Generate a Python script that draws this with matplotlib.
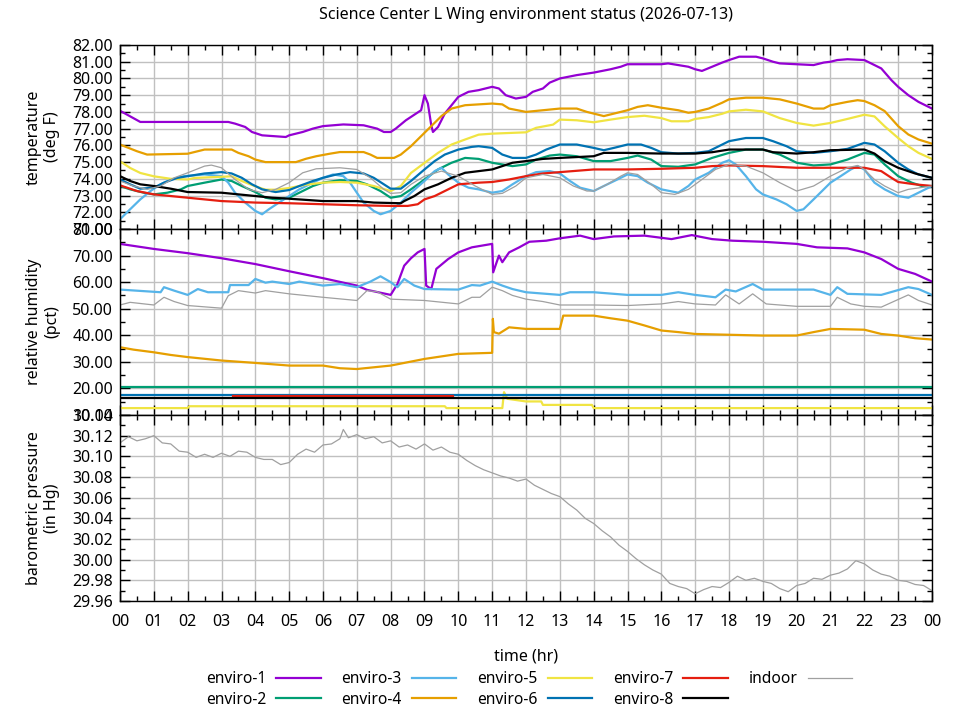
import numpy as np
import matplotlib
matplotlib.use("Agg")
import matplotlib.pyplot as plt
from matplotlib.ticker import MultipleLocator, FixedLocator

plt.rcParams["font.family"] = ["Noto Sans", "DejaVu Sans"]
plt.rcParams["font.size"] = 11

# ==== data (hour, value) ====
names = ["enviro-1", "enviro-2", "enviro-3", "enviro-4",
         "enviro-5", "enviro-6", "enviro-7", "enviro-8", "indoor"]
colors = ["#9400d3", "#009e73", "#56b4e9", "#e69f00",
          "#f0e442", "#0072b2", "#e51e10", "#000000", "#a0a0a0"]

# temperature (deg F)
e1_temp = [(0, 78.07), (0.6, 77.4), (3.2, 77.4), (3.4, 77.3), (3.7, 77.1), (3.9, 76.8), (4.2, 76.6),
           (4.9, 76.5), (5.0, 76.6), (5.4, 76.8), (5.7, 77.0), (6.0, 77.15), (6.6, 77.25), (7.2, 77.2),
           (7.6, 77.0), (7.8, 76.8), (8.0, 76.8), (8.15, 77.0), (8.45, 77.5), (8.9, 78.1), (9.0, 79.0),
           (9.1, 78.5), (9.2, 77.2), (9.25, 76.8), (9.4, 77.1), (9.6, 77.9), (9.8, 78.4), (10.0, 78.9),
           (10.3, 79.2), (10.6, 79.3), (11.0, 79.5), (11.2, 79.4), (11.4, 79.0), (11.7, 78.8), (12.0, 78.9),
           (12.2, 79.2), (12.5, 79.4), (12.7, 79.75), (13.0, 80.0), (13.5, 80.2), (14.0, 80.35), (14.5, 80.55),
           (14.8, 80.7), (15.0, 80.85), (16.0, 80.85), (16.2, 80.9), (16.8, 80.7), (17.0, 80.55), (17.2, 80.45),
           (17.5, 80.7), (17.8, 80.95), (18.0, 81.1), (18.3, 81.3), (18.8, 81.3), (19.0, 81.2), (19.3, 81.0),
           (19.5, 80.9), (20.0, 80.85), (20.5, 80.8), (20.8, 80.95), (21.0, 81.0), (21.2, 81.1), (21.5, 81.15),
           (22.0, 81.1), (22.2, 80.9), (22.5, 80.6), (22.8, 79.9), (23.0, 79.5), (23.3, 79.0), (23.6, 78.6),
           (23.8, 78.4), (24.0, 78.2)]
e2_temp = [(0, 73.57), (0.3, 73.37), (0.7, 73.17), (1.0, 73.07), (1.4, 73.17), (1.8, 73.37), (2.0, 73.57),
           (2.5, 73.77), (3.0, 73.96), (3.3, 73.87), (3.6, 73.57), (4.0, 73.21), (4.3, 72.87), (4.6, 72.77),
           (5.0, 72.87), (5.3, 73.17), (5.7, 73.57), (6.0, 73.77), (6.5, 73.92), (7.0, 73.87), (7.3, 73.67),
           (7.7, 73.27), (8.0, 72.87), (8.3, 72.97), (8.6, 73.37), (9.0, 73.96), (9.4, 74.56), (9.8, 74.96),
           (10.2, 75.25), (10.6, 75.19), (11.0, 74.96), (11.3, 74.86), (11.6, 74.76), (12.0, 74.86), (12.3, 75.15),
           (12.7, 75.39), (13.0, 75.45), (13.5, 75.35), (14.0, 75.06), (14.5, 75.06), (15.0, 75.25), (15.3, 75.39),
           (15.7, 75.15), (16.0, 74.76), (16.5, 74.72), (17.0, 74.86), (17.5, 75.25), (18.0, 75.55), (18.5, 75.75),
           (19.0, 75.75), (19.5, 75.45), (20.0, 74.96), (20.5, 74.80), (21.0, 74.86), (21.5, 75.15), (22.0, 75.55),
           (22.3, 75.45), (22.6, 74.86), (23.0, 74.16), (23.4, 73.77), (23.7, 73.57), (24.0, 73.57)]
e3_temp = [(0, 71.58), (0.3, 72.18), (0.6, 72.77), (0.9, 73.27), (1.2, 73.67), (1.5, 73.96), (1.9, 74.16),
           (2.5, 74.26), (3.0, 74.16), (3.2, 73.77), (3.4, 73.17), (3.7, 72.58), (4.0, 72.08), (4.2, 71.88),
           (4.4, 72.18), (4.7, 72.58), (5.0, 72.97), (5.3, 73.37), (5.7, 73.77), (6.0, 74.06), (6.3, 74.26),
           (6.6, 74.16), (6.8, 73.77), (7.0, 73.17), (7.2, 72.58), (7.5, 72.08), (7.7, 71.88), (8.0, 72.08),
           (8.3, 72.58), (8.6, 73.17), (9.0, 73.87), (9.3, 74.46), (9.5, 74.66), (9.7, 74.26), (10.0, 73.77),
           (10.3, 73.47), (10.6, 73.37), (11.0, 73.17), (11.3, 73.27), (11.6, 73.67), (12.0, 74.16), (12.3, 74.40),
           (12.7, 74.46), (13.0, 74.32), (13.3, 73.87), (13.6, 73.47), (14.0, 73.27), (14.3, 73.57), (14.7, 73.96),
           (15.0, 74.26), (15.3, 74.16), (15.6, 73.77), (16.0, 73.37), (16.5, 73.17), (16.8, 73.57), (17.0, 73.96),
           (17.4, 74.36), (17.8, 74.96), (18.0, 75.11), (18.2, 74.86), (18.5, 74.16), (18.8, 73.37), (19.0, 73.07),
           (19.4, 72.77), (19.7, 72.48), (20.0, 72.08), (20.2, 72.18), (20.5, 72.77), (20.8, 73.37), (21.0, 73.77),
           (21.3, 74.16), (21.6, 74.56), (21.8, 74.76), (22.0, 74.56), (22.3, 73.77), (22.6, 73.37), (23.0, 72.97),
           (23.3, 72.87), (23.6, 73.17), (24.0, 73.57)]
e4_temp = [(0, 76.05), (0.5, 75.65), (0.8, 75.45), (2.0, 75.5), (2.3, 75.65), (2.5, 75.75), (3.3, 75.75),
           (3.5, 75.55), (3.8, 75.35), (4.0, 75.15), (4.3, 75.0), (5.2, 75.0), (5.5, 75.2), (5.8, 75.35),
           (6.2, 75.5), (6.5, 75.6), (7.2, 75.6), (7.4, 75.45), (7.6, 75.25), (8.1, 75.25), (8.3, 75.45),
           (8.6, 75.95), (8.9, 76.55), (9.2, 77.15), (9.5, 77.75), (9.8, 78.2), (10.2, 78.4), (10.6, 78.45),
           (11.0, 78.5), (11.3, 78.45), (11.5, 78.2), (12.0, 78.0), (12.5, 78.1), (13.0, 78.2), (13.5, 78.2),
           (13.8, 78.0), (14.0, 77.9), (14.3, 77.75), (14.7, 77.95), (15.0, 78.1), (15.3, 78.3), (15.6, 78.4),
           (16.0, 78.25), (16.5, 78.1), (16.8, 77.95), (17.0, 78.0), (17.4, 78.2), (17.8, 78.55), (18.0, 78.75),
           (18.5, 78.85), (19.0, 78.85), (19.5, 78.75), (20.0, 78.5), (20.5, 78.2), (20.8, 78.2), (21.0, 78.4),
           (21.5, 78.6), (21.8, 78.7), (22.0, 78.65), (22.3, 78.4), (22.6, 78.05), (23.0, 77.15), (23.3, 76.65),
           (23.6, 76.35), (24.0, 76.1)]
e5_temp = [(0, 75.05), (0.3, 74.65), (0.6, 74.35), (1.0, 74.15), (1.5, 74.0), (2.0, 73.96), (2.2, 74.05),
           (3.3, 74.15), (3.6, 73.87), (4.0, 73.55), (4.3, 73.35), (4.6, 73.35), (5.0, 73.45), (5.5, 73.65),
           (6.0, 73.77), (6.5, 73.81), (7.0, 73.77), (7.5, 73.57), (8.0, 73.27), (8.3, 73.57), (8.6, 74.35),
           (9.0, 74.95), (9.4, 75.55), (9.8, 76.05), (10.2, 76.35), (10.6, 76.64), (11.0, 76.7), (12.0, 76.78),
           (12.3, 77.05), (12.8, 77.24), (13.0, 77.54), (13.5, 77.5), (14.0, 77.38), (14.5, 77.54), (15.0, 77.69),
           (15.5, 77.77), (16.0, 77.63), (16.3, 77.44), (16.8, 77.44), (17.0, 77.58), (17.4, 77.69), (17.8, 77.89),
           (18.0, 78.03), (18.5, 78.13), (19.0, 78.03), (19.5, 77.63), (20.0, 77.34), (20.5, 77.18), (21.0, 77.34),
           (21.5, 77.58), (22.0, 77.83), (22.3, 77.73), (22.6, 77.14), (23.0, 76.44), (23.3, 75.95), (23.6, 75.55),
           (24.0, 75.19)]
e6_temp = [(0, 73.96), (0.3, 73.67), (0.6, 73.41), (1.0, 73.47), (1.3, 73.77), (1.7, 74.06), (2.0, 74.16),
           (2.5, 74.32), (3.0, 74.40), (3.3, 74.32), (3.6, 74.06), (3.9, 73.67), (4.2, 73.37), (4.6, 73.21),
           (5.0, 73.33), (5.3, 73.57), (5.7, 73.87), (6.0, 74.06), (6.4, 74.26), (6.8, 74.40), (7.2, 74.32),
           (7.5, 74.06), (7.8, 73.67), (8.0, 73.41), (8.3, 73.41), (8.6, 73.87), (9.0, 74.56), (9.3, 75.06),
           (9.6, 75.45), (10.0, 75.75), (10.4, 75.91), (10.6, 75.95), (11.0, 75.85), (11.3, 75.45), (11.6, 75.25),
           (12.0, 75.25), (12.3, 75.45), (12.6, 75.75), (13.0, 76.05), (13.5, 76.05), (14.0, 75.85), (14.3, 75.71),
           (14.6, 75.85), (15.0, 76.05), (15.4, 76.05), (15.7, 75.85), (16.0, 75.59), (16.5, 75.51), (17.0, 75.55),
           (17.4, 75.65), (17.8, 76.05), (18.0, 76.25), (18.5, 76.44), (19.0, 76.44), (19.3, 76.25), (19.7, 75.95),
           (20.0, 75.65), (20.5, 75.55), (21.0, 75.65), (21.5, 75.79), (22.0, 76.15), (22.3, 76.05), (22.6, 75.65),
           (23.0, 74.96), (23.3, 74.56), (23.6, 74.26), (24.0, 74.06)]
e7_temp = [(0, 73.61), (0.5, 73.27), (1.0, 73.07), (1.5, 72.97), (2.0, 72.87), (2.5, 72.77), (3.0, 72.67),
           (4.0, 72.58), (5.0, 72.54), (6.0, 72.48), (7.0, 72.42), (8.0, 72.38), (8.5, 72.38), (8.8, 72.48),
           (9.0, 72.77), (9.3, 72.97), (9.7, 73.37), (10.0, 73.67), (10.6, 73.77), (11.0, 73.81), (11.5, 73.96),
           (12.0, 74.16), (12.5, 74.32), (13.0, 74.40), (14.0, 74.56), (15.0, 74.56), (16.0, 74.60), (17.0, 74.66),
           (17.5, 74.76), (18.0, 74.80), (19.0, 74.76), (20.0, 74.66), (22.0, 74.66), (22.5, 74.46), (22.8, 74.06),
           (23.0, 73.81), (23.5, 73.67), (24.0, 73.57)]
e8_temp = [(0, 74.16), (0.3, 73.87), (0.6, 73.67), (1.0, 73.57), (1.5, 73.41), (2.0, 73.21), (3.0, 73.17),
           (3.5, 73.07), (4.0, 72.97), (4.5, 72.87), (5.0, 72.81), (6.0, 72.67), (7.0, 72.67), (7.5, 72.58),
           (8.3, 72.54), (8.4, 72.67), (8.7, 72.97), (9.0, 73.37), (9.4, 73.67), (9.8, 74.06), (10.2, 74.36),
           (10.6, 74.46), (11.0, 74.56), (11.3, 74.76), (11.6, 74.96), (12.0, 75.06), (12.5, 75.19), (13.0, 75.25),
           (14.0, 75.35), (14.3, 75.55), (15.0, 75.55), (16.0, 75.51), (17.0, 75.51), (17.5, 75.59), (18.0, 75.75),
           (19.0, 75.75), (19.3, 75.59), (20.0, 75.51), (20.5, 75.59), (21.0, 75.71), (22.0, 75.75), (22.3, 75.51),
           (22.6, 75.06), (23.0, 74.66), (23.5, 74.32), (24.0, 74.06)]
indoor_temp = [(0, 73.87), (0.4, 73.57), (0.8, 73.37), (1.2, 73.57), (1.6, 74.06), (2.0, 74.36), (2.5, 74.76),
               (2.7, 74.82), (3.0, 74.66), (3.4, 73.96), (3.8, 73.37), (4.2, 73.17), (4.6, 73.37), (5.0, 73.77),
               (5.4, 74.36), (5.8, 74.60), (6.5, 74.66), (7.0, 74.56), (7.4, 74.06), (7.8, 73.37), (8.0, 73.13),
               (8.3, 73.17), (8.6, 73.67), (9.0, 74.16), (9.5, 74.46), (10.0, 74.16), (10.5, 73.57), (11.0, 73.07),
               (11.3, 73.13), (11.7, 73.57), (12.0, 74.06), (12.5, 74.26), (13.0, 74.06), (13.4, 73.57), (13.8, 73.27),
               (14.0, 73.27), (14.4, 73.67), (14.8, 74.16), (15.0, 74.36), (15.3, 74.26), (15.7, 73.67), (16.0, 73.17),
               (16.4, 73.07), (16.8, 73.37), (17.2, 73.96), (17.6, 74.56), (18.0, 74.86), (18.5, 74.76), (19.0, 74.36),
               (19.5, 73.77), (20.0, 73.27), (20.5, 73.57), (21.0, 74.16), (21.5, 74.66), (21.8, 74.80), (22.0, 74.56),
               (22.3, 73.96), (22.6, 73.57), (23.0, 73.17), (23.3, 73.37), (24.0, 73.57)]

# relative humidity (pct)
e1_rh = [(0, 74.4), (1.0, 72.5), (2.0, 70.9), (3.0, 69.0), (4.0, 66.8), (5.0, 64.1), (6.0, 61.5), (7.0, 58.7),
         (7.3, 57.1), (8.0, 55.2), (8.2, 59.3), (8.4, 66.2), (8.6, 69.0), (8.8, 71.2), (9.0, 72.5), (9.05, 58.7),
         (9.2, 57.4), (9.35, 65.0), (9.7, 68.7), (10.0, 71.2), (10.4, 73.1), (11.0, 74.4), (11.03, 63.7),
         (11.2, 70.0), (11.3, 67.5), (11.5, 71.2), (11.8, 73.1), (12.1, 75.2), (12.6, 75.6), (13.0, 76.5),
         (13.6, 77.5), (14.0, 76.2), (14.6, 77.2), (15.5, 77.5), (16.3, 76.2), (16.9, 77.7), (17.5, 76.2),
         (18.1, 75.6), (19.0, 75.2), (20.0, 74.4), (20.6, 73.1), (21.5, 72.7), (22.0, 71.2), (22.5, 68.7),
         (23.0, 65.0), (23.5, 63.1), (24.0, 60.2)]
e2_rh = [(0, 20.4), (24, 20.4)]
e3_rh = [(0, 57.2), (1.2, 56.2), (1.3, 58.1), (1.6, 56.8), (2.0, 55.2), (2.3, 57.4), (2.6, 56.2), (3.2, 56.2),
         (3.25, 58.9), (3.8, 58.9), (4.0, 61.2), (4.3, 59.8), (4.5, 60.2), (5.0, 59.3), (5.3, 60.2), (6.0, 58.7),
         (6.5, 59.3), (7.0, 58.1), (7.4, 60.2), (7.7, 62.2), (8.0, 60.0), (8.2, 58.1), (8.4, 61.2), (8.7, 58.7),
         (9.0, 57.4), (10.0, 57.2), (10.4, 58.9), (10.64, 58.7), (11.0, 60.2), (11.3, 58.7), (11.6, 57.4),
         (12.0, 56.2), (13.0, 55.2), (13.3, 56.2), (14.0, 56.2), (15.0, 55.2), (16.0, 55.2), (16.5, 56.2),
         (17.0, 55.2), (17.6, 54.3), (17.9, 57.2), (18.2, 56.5), (18.7, 59.3), (19.0, 57.2), (20.5, 57.2),
         (21.0, 55.2), (21.2, 58.1), (21.5, 55.6), (22.5, 55.2), (23.3, 58.1), (23.6, 57.4), (24.0, 55.2)]
e4_rh = [(0, 35.5), (0.4, 34.6), (1.0, 33.6), (1.5, 32.6), (2.0, 31.8), (3.0, 30.5), (4.0, 29.6), (5.0, 28.6),
         (6.0, 28.6), (6.5, 27.6), (7.0, 27.3), (8.0, 28.6), (8.4, 29.6), (9.0, 31.1), (10.0, 33.0), (11.0, 33.4),
         (11.02, 46.2), (11.05, 41.2), (11.2, 40.6), (11.5, 43.0), (12.0, 42.4), (13.0, 42.4), (13.1, 47.4),
         (14.0, 47.4), (14.5, 46.4), (15.0, 45.5), (15.5, 43.7), (16.0, 41.8), (16.5, 41.2), (17.0, 40.5),
         (18.0, 40.2), (19.0, 39.9), (20.0, 39.9), (20.5, 41.2), (21.0, 42.4), (22.0, 42.1), (22.5, 40.5),
         (23.0, 39.9), (23.5, 38.9), (24.0, 38.4)]
e5_rh = [(0, 12.6), (2.0, 12.6), (2.05, 13.3), (9.6, 13.3), (9.65, 12.6), (11.3, 12.6), (11.35, 18.6),
         (11.45, 16.1), (12.0, 15.1), (12.45, 15.1), (12.5, 13.8), (13.95, 13.8), (14.0, 12.6), (24.0, 12.6)]
e6_rh = [(0, 17.6), (24, 17.6)]
e7_rh = [(3.35, 17.1), (9.85, 17.1)]
e8_rh = [(0, 16.4), (24, 16.4)]
indoor_rh = [(0, 51.4), (0.3, 52.4), (1.0, 51.4), (1.3, 54.3), (1.6, 52.7), (2.0, 51.2), (3.0, 50.2), (3.2, 54.9),
             (3.5, 56.8), (4.0, 55.9), (4.3, 56.8), (5.0, 55.6), (6.0, 54.3), (7.0, 53.1), (7.3, 56.8), (7.6, 56.4),
             (8.0, 53.6), (9.0, 53.1), (10.0, 51.8), (10.4, 54.3), (10.64, 54.3), (11.0, 58.1), (11.3, 56.8),
             (11.6, 55.0), (12.0, 53.6), (12.5, 52.7), (13.0, 51.4), (14.0, 51.4), (15.0, 51.2), (16.0, 51.8),
             (16.5, 52.7), (17.0, 51.8), (17.6, 51.4), (17.9, 55.2), (18.3, 51.8), (18.7, 55.6), (19.1, 51.8),
             (20.0, 50.9), (21.0, 50.9), (21.2, 54.3), (21.6, 51.8), (22.0, 50.9), (22.5, 50.6), (23.3, 55.2),
             (23.6, 53.1), (24.0, 51.4)]

# barometric pressure (in Hg), indoor only
press_hr = [0, 0.25, 0.5, 0.75, 1, 1.25, 1.5, 1.75, 2, 2.25, 2.5, 2.75, 3, 3.25, 3.5, 3.75,
            4, 4.25, 4.5, 4.75, 5, 5.25, 5.5, 5.75, 6, 6.25, 6.5, 6.6, 6.75, 7, 7.25, 7.5, 7.75,
            8, 8.25, 8.5, 8.75, 9, 9.25, 9.5, 9.75, 10, 10.25, 10.5, 10.75, 11, 11.25, 11.5, 11.75,
            12, 12.25, 12.5, 12.75, 13, 13.25, 13.5, 13.75, 14, 14.25, 14.5, 14.75, 15, 15.25, 15.5, 15.75,
            16, 16.25, 16.5, 16.75, 17, 17.25, 17.5, 17.75, 18, 18.25, 18.5, 18.75, 19, 19.25, 19.5, 19.75,
            20, 20.25, 20.5, 20.75, 21, 21.25, 21.5, 21.75, 22, 22.25, 22.5, 22.75, 23, 23.25, 23.5, 23.75, 24]
press_val = [30.113, 30.119, 30.115, 30.117, 30.120, 30.113, 30.112, 30.105, 30.104, 30.099, 30.102, 30.099,
             30.103, 30.100, 30.105, 30.104, 30.099, 30.097, 30.097, 30.092, 30.094, 30.102, 30.107, 30.104,
             30.111, 30.112, 30.117, 30.126, 30.118, 30.121, 30.117, 30.119, 30.113, 30.115, 30.109, 30.111,
             30.107, 30.112, 30.106, 30.109, 30.104, 30.102, 30.096, 30.091, 30.087, 30.084, 30.081, 30.079,
             30.076, 30.078, 30.072, 30.068, 30.064, 30.061, 30.054, 30.048, 30.040, 30.035, 30.028, 30.022,
             30.014, 30.008, 30.001, 29.995, 29.990, 29.986, 29.977, 29.974, 29.972, 29.967, 29.971, 29.974,
             29.973, 29.978, 29.984, 29.980, 29.982, 29.979, 29.977, 29.972, 29.969, 29.975, 29.977, 29.982,
             29.981, 29.985, 29.987, 29.991, 29.999, 29.996, 29.990, 29.986, 29.984, 29.980, 29.979, 29.976,
             29.975, 29.970]

temp_series = [e1_temp, e2_temp, e3_temp, e4_temp, e5_temp, e6_temp, e7_temp, e8_temp, indoor_temp]
rh_series = [e1_rh, e2_rh, e3_rh, e4_rh, e5_rh, e6_rh, e7_rh, e8_rh, indoor_rh]

hour_labels = ["%02d" % (h % 24) for h in range(25)]

# ==== figure ====
fig = plt.figure(figsize=(9.6, 7.2), dpi=100)
L, W = 120 / 960, 812 / 960
ax_t = fig.add_axes([L, 1 - 229 / 720, W, 184 / 720])
ax_h = fig.add_axes([L, 1 - 415 / 720, W, 186 / 720])
ax_p = fig.add_axes([L, 1 - 601 / 720, W, 186 / 720])


def style(ax, lo, hi, step, minor, fmt):
    ax.set_xlim(0, 24)
    ax.set_ylim(lo, hi)
    ax.xaxis.set_major_locator(MultipleLocator(1))
    ax.xaxis.set_minor_locator(MultipleLocator(0.5))
    ticks = np.arange(lo, hi + step / 2, step)
    ax.yaxis.set_major_locator(FixedLocator(ticks))
    ax.yaxis.set_minor_locator(MultipleLocator(minor))
    ax.set_yticklabels([fmt % t for t in ticks])
    ax.grid(True, which="major", color="#c0c0c0", lw=1)
    ax.set_axisbelow(True)
    ax.tick_params(which="both", direction="in", top=True, right=True, labelsize=11.5, width=1)
    ax.tick_params(which="major", length=7, pad=5)
    ax.tick_params(which="minor", length=3.5)
    for s in ax.spines.values():
        s.set_linewidth(1)
        s.set_zorder(5)


lines = []
for name, col, ts, rs in zip(names, colors, temp_series, rh_series):
    lw = 0.9 if name == "indoor" else 1.6
    h, v = zip(*ts)
    ln, = ax_t.plot(h, v, color=col, lw=lw, label=name)
    lines.append(ln)
    h, v = zip(*rs)
    ax_h.plot(h, v, color=col, lw=lw)
ax_p.plot(press_hr, press_val, color=colors[-1], lw=0.9)

style(ax_t, 71, 82, 1, 0.5, "%.2f")
style(ax_h, 10, 80, 10, 5, "%.2f")
style(ax_p, 29.96, 30.14, 0.02, 0.01, "%.2f")

for ax in (ax_t, ax_h):
    ax.tick_params(labelbottom=False)
ax_p.set_xticks(range(25))
ax_p.set_xticklabels(hour_labels)
ax_p.tick_params(axis="x", pad=9)
ax_p.set_xlabel("time (hr)", fontsize=11.5, labelpad=14)

ax_t.set_ylabel("temperature\n(deg F)", fontsize=11.5)
ax_h.set_ylabel("relative humidity\n(pct)", fontsize=11.5)
ax_p.set_ylabel("barometric pressure\n(in Hg)", fontsize=11.5)
for ax in (ax_t, ax_h, ax_p):
    ax.yaxis.set_label_coords(-0.074, 0.5)

fig.text(L + W / 2, 1 - 15 / 720, "Science Center L Wing environment status (2026-07-13)",
         ha="center", va="center", fontsize=11.5)

fig.legend(handles=lines, ncol=5, loc="center", bbox_to_anchor=(529 / 960, 1 - 689.5 / 720),
           frameon=False, markerfirst=False, handlelength=2.86, columnspacing=1.35,
           labelspacing=0.3, fontsize=11.2, handletextpad=0.64)

plt.savefig("out.png")
plt.close()
